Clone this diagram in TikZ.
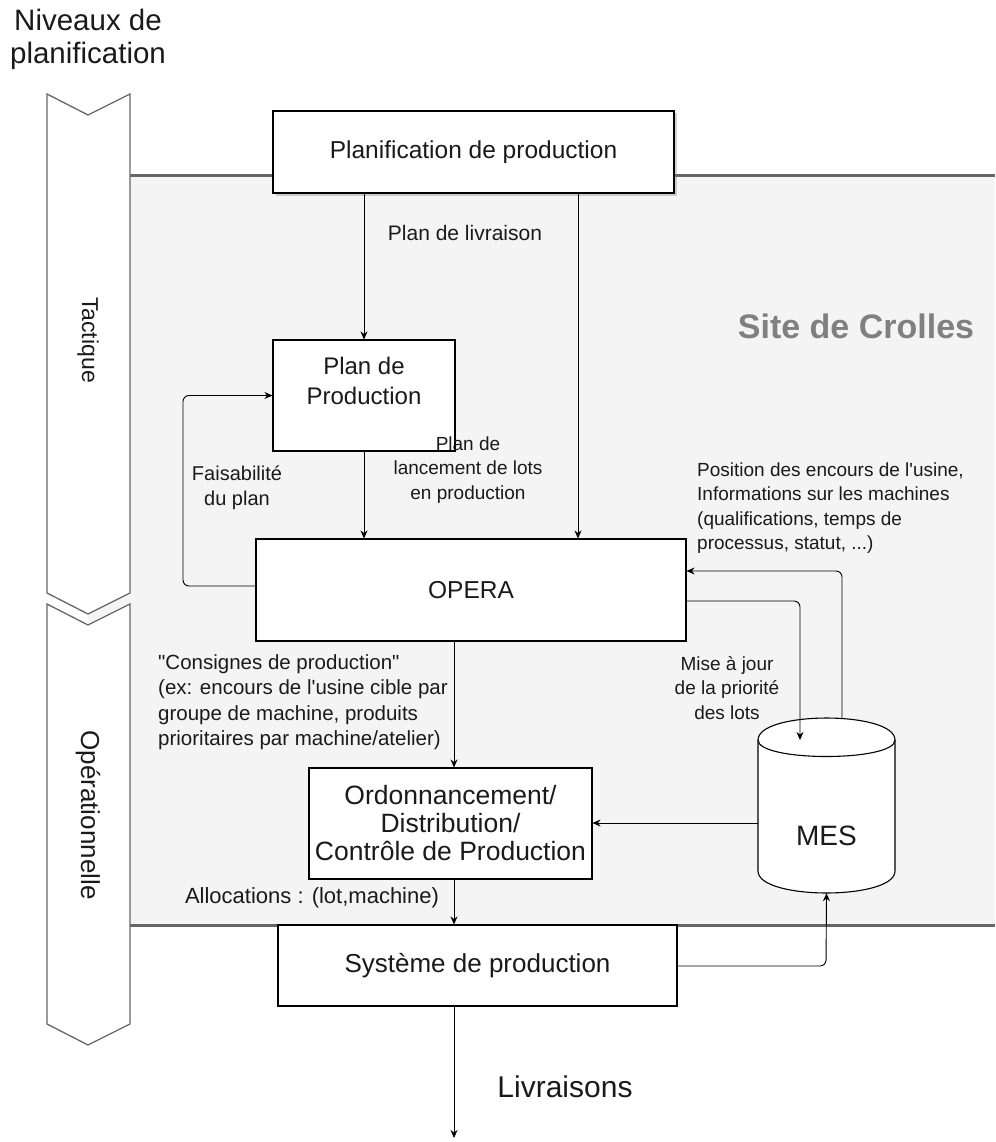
\documentclass[tikz,border=0pt]{standalone}
\usepackage{fontspec}
\setmainfont{Liberation Sans}[Ligatures=TeXOff]
\usetikzlibrary{arrows.meta,shadows}
\definecolor{bggrey}{HTML}{F4F4F4}
\definecolor{linegrey}{HTML}{666666}
\definecolor{sitegrey}{HTML}{808080}
\definecolor{txt}{HTML}{1A1A1A}
\begin{document}
\begin{tikzpicture}[x=1pt,y=-1pt,
  box/.style={draw=black, line width=1.1pt, fill=white, rectangle, align=center, inner sep=0pt, text=txt, font=\fontsize{24.5}{29}\selectfont},
  lbl/.style={align=center, inner sep=0pt, text=txt, font=\fontsize{19}{24.5}\selectfont},
  lbll/.style={lbl, align=left},
  arr/.style={draw=black, line width=0.9pt, rounded corners=6pt, -{Stealth[length=8pt,width=7pt]}},
  chev/.style={draw=linegrey, line width=1.3pt, fill=white},
  sep/.style={draw=linegrey, line width=3pt}
]
\useasboundingbox (0,0) rectangle (995,1142);
% background area
\fill[bggrey] (88,176) rectangle (995,925);
\draw[sep] (88,176) -- (995,176);
\draw[sep] (88,925) -- (995,925);
% chevrons
\draw[chev] (47,94) -- (88,115) -- (130,94) -- (130,593) -- (88,614) -- (47,593) -- cycle;
\draw[chev] (47,604) -- (88,625) -- (130,604) -- (130,1024) -- (88,1045) -- (47,1024) -- cycle;
\node[lbl, font=\fontsize{23}{27}\selectfont, rotate=-90] (tact) at (88,340) {Tactique};
\node[lbl, font=\fontsize{26}{30}\selectfont, rotate=-90] (oper) at (88,815) {Opérationnelle};
\node[lbl, font=\fontsize{29.5}{33}\selectfont] (niv) at (88,39) {Niveaux de\\planification};
\node[inner sep=0pt, text=sitegrey, font=\bfseries\fontsize{34}{40}\selectfont] (site) at (856,326) {Site de Crolles};

% boxes
\node[box, minimum width=401pt, minimum height=82pt, drop shadow={shadow xshift=2.5pt, shadow yshift=-2.5pt, opacity=0.35}] (plan) at (473.5,152) {Planification de production};
\node[box, minimum width=182pt, minimum height=111pt] (planprod) at (364,395.5) {};
\node[lbl, text=txt, font=\fontsize{24}{30}\selectfont] (planprodtxt) at (364,381) {Plan de\\Production};
\node[box, minimum width=430pt, minimum height=102pt] (opera) at (471,590) {OPERA};
\node[box, minimum width=283pt, minimum height=111pt, font=\fontsize{26.5}{28}\selectfont] (ordo) at (450.5,823.5) {Ordonnancement/\\Distribution/\\Contrôle de Production};
\node[box, minimum width=399pt, minimum height=81pt, font=\fontsize{26}{30}\selectfont] (sys) at (477.5,965.5) {Système de production};
% MES cylinder
\node[minimum width=137pt, minimum height=175pt, inner sep=0pt] (mes) at (826.5,805.5) {};
\draw[draw=black, line width=1.1pt, fill=white] (758,740) .. controls (758,710.7) and (895,710.7) .. (895,740) -- (895,871) .. controls (895,900.3) and (758,900.3) .. (758,871) -- cycle;
\draw[draw=black, line width=1.1pt] (758,740) .. controls (758,762) and (895,762) .. (895,740);
\node[inner sep=0pt, text=txt, font=\fontsize{28}{32}\selectfont] (mestxt) at (826.5,836) {MES};

% coordinates
\coordinate (cR) at (578,0);
\coordinate (cM) at (454,0);
\coordinate (fb) at (183,586);
\coordinate (o2m) at (800,601);
\coordinate (mtop) at (800,740);
\coordinate (m2o) at (842,571);
\coordinate (mtop2) at (842,719);
\coordinate (s2m) at (826,966);
\coordinate (mord) at (0,823);
\coordinate (liv) at (454,1138);

% connectors
\draw[arr] (planprod.north |- plan.south) -- (planprod.north);
\draw[arr] (cR |- plan.south) -- (cR |- opera.north);
\draw[arr] (planprod.south) -- (planprod.south |- opera.north);
\draw[arr] (opera.west |- fb) -- (fb) -- (fb |- planprod.west) -- (planprod.west);
\draw[arr] (opera.east |- o2m) -- (o2m) -- (mtop);
\draw[arr] (mtop2) -- (m2o) -- (opera.east |- m2o);
\draw[arr] (mes.west |- mord) -- (ordo.east |- mord);
\draw[arr] (cM |- opera.south) -- (cM |- ordo.north);
\draw[arr] (cM |- ordo.south) -- (cM |- sys.north);
\draw[arr] (sys.east |- s2m) -- (s2m) -- (mes.south);
\draw[arr] (cM |- sys.south) -- (liv);

% labels
\node[lbl, font=\fontsize{21}{25}\selectfont] (l1) at (465,233) {Plan de livraison};
\node[lbl, font=\fontsize{20}{25}\selectfont] (l2) at (237,488) {Faisabilité\\du plan};
\node[lbl] (l3) at (468,470) {Plan de\\lancement de lots\\en production};
\node[lbll, anchor=west] (l4) at (697,508) {Position des encours de l'usine,\\Informations sur les machines\\(qualifications, temps de\\processus, statut, ...)};
\node[lbl] (l5) at (727,688) {Mise à jour\\de la priorité\\des lots};
\node[lbll, anchor=west, font=\fontsize{20.5}{25.5}\selectfont] (l6) at (158,702) {"Consignes de production"\\(ex: encours de l'usine cible par\\groupe de machine, produits\\prioritaires par machine/atelier)};
\node[lbl, font=\fontsize{22}{26}\selectfont] (l7) at (312,898) {Allocations : (lot,machine)};
\node[lbl, font=\fontsize{30}{35}\selectfont] (l8) at (565,1087) {Livraisons};
\end{tikzpicture}
\end{document}
